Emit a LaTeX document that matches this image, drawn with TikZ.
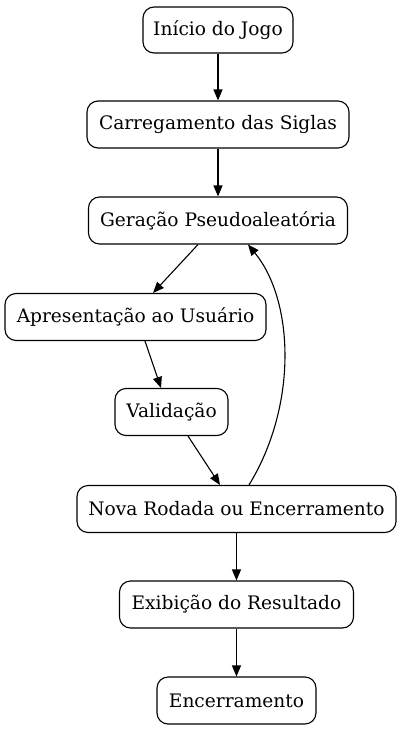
\documentclass[tikz,border=0pt]{standalone}
\usepackage{fontspec}
\setmainfont{DejaVu Serif}
\usetikzlibrary{arrows.meta}
\begin{document}
\begin{tikzpicture}[x=1pt,y=-1pt,
  box/.style={draw=black, line width=1.1pt, rounded corners=11pt, minimum height=47pt, inner sep=0pt, font=\fontsize{18.6}{21}\selectfont},
  arr/.style={draw=black, line width=1.1pt, -{Triangle[length=11pt,width=9pt]}}]
\useasboundingbox (0,0) rectangle (401,731);
\node[box, minimum width=150pt, minimum height=46pt] (n1) at (218,30) {Início do Jogo};
\node[box, minimum width=262pt] (n2) at (218,124.5) {Carregamento das Siglas};
\node[box, minimum width=259pt] (n3) at (218,220.5) {Geração Pseudoaleatória};
\node[box, minimum width=261pt] (n4) at (135.5,317) {Apresentação ao Usuário};
\node[box, minimum width=113pt] (n5) at (171.5,412) {Validação};
\node[box, minimum width=319pt] (n6) at (236.5,509) {Nova Rodada ou Encerramento};
\node[box, minimum width=234pt] (n7) at (236.5,604.5) {Exibição do Resultado};
\node[box, minimum width=159pt] (n8) at (236.5,700.5) {Encerramento};
\draw[arr] (n1.south) -- (n2.north);
\draw[arr] (n2.south) -- (n3.north);
\draw[arr] ([xshift=-20pt]n3.south) -- ([xshift=17.5pt]n4.north);
\draw[arr] ([xshift=9.5pt]n4.south) -- ([xshift=-10.5pt]n5.north);
\draw[arr] ([xshift=16.5pt]n5.south) -- ([xshift=-16.5pt]n6.north);
\draw[arr] ([xshift=12.5pt]n6.north) .. controls ([xshift=61.5pt,yshift=80pt]n6.north) and ([xshift=76pt,yshift=-56pt]n3.south) .. ([xshift=30pt]n3.south);
\draw[arr] (n6.south) -- (n7.north);
\draw[arr] (n7.south) -- (n8.north);
\end{tikzpicture}
\end{document}
